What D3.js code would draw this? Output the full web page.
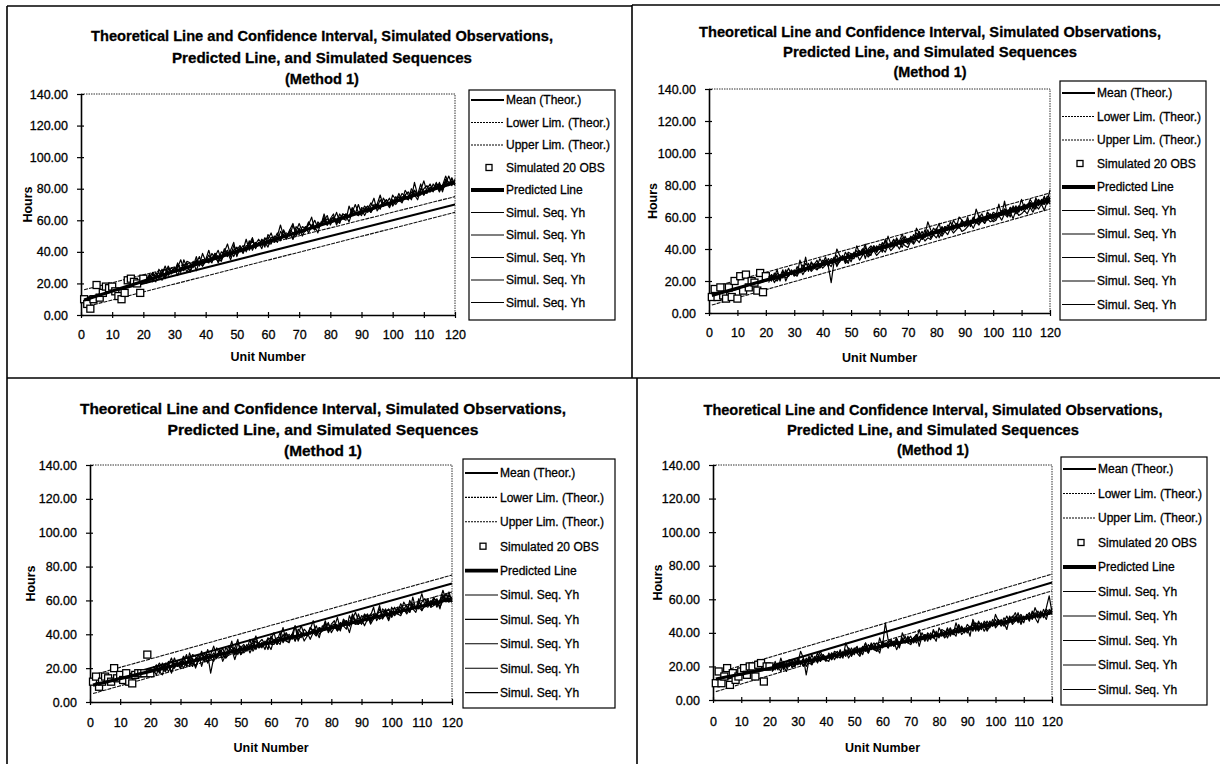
<!DOCTYPE html>
<html>
<head>
<meta charset="utf-8">
<script src="https://cdnjs.cloudflare.com/ajax/libs/d3/7.8.5/d3.min.js"></script>
<style>
body { margin: 0; background: #fff; }
svg { display: block; }
text { font-family: "Liberation Sans", Arial, sans-serif; fill: #000; }
.scan { stroke: #000; stroke-width: 0.3px; }
</style>
</head>
<body>
<div id="chart"></div>
<script>
// ---- data ----
var titleLines = [
    "Theoretical Line and Confidence Interval, Simulated Observations,",
    "Predicted Line, and Simulated Sequences",
    "(Method 1)"
];
var legendLabels = ["Mean (Theor.)", "Lower Lim. (Theor.)", "Upper Lim. (Theor.)", "Simulated 20 OBS",
    "Predicted Line", "Simul. Seq. Yh", "Simul. Seq. Yh", "Simul. Seq. Yh", "Simul. Seq. Yh", "Simul. Seq. Yh"];
var xTicks = [0, 10, 20, 30, 40, 50, 60, 70, 80, 90, 100, 110, 120];
var yTicks = [0, 20, 40, 60, 80, 100, 120, 140];

var obsUnits = [1, 2, 3, 4, 5, 6, 7, 8, 9, 10, 11, 12, 13, 14, 15, 16, 17, 18, 19, 20];
var seqUnits = d3.range(21, 121);

// theoretical line and limits (same in every panel), end points
var meanTheor = [[1, 10.5], [120, 70]];
var lowerTheor = [[1, 5], [120, 65]];
var upperTheor = [[1, 16], [120, 75]];

// simulated observations
var tlObs = [10, 7, 4, 10, 19, 11, 14, 18, 17, 18, 15, 12, 10, 14, 22, 23, 21, 20, 14, 23];
var trObs = [10, 15, 10, 16, 11, 9, 16, 10, 20, 9, 23, 14, 24, 16, 20, 19, 14, 25, 13, 23];
var blObs = [12, 15, 9, 12, 15, 14, 12, 20, 14, 16, 13, 17, 12, 11, 16, 17, 17, 17, 28, 17];
var brObs = [10, 17, 10, 14, 19, 9, 16, 12, 14, 17, 19, 15, 20, 20, 14, 21, 22, 11, 20, 20];

// predicted lines, end points
var tlPred = [[1, 9.5], [120, 84]];
var trPred = [[1, 11], [120, 71]];
var blPred = [[1, 10], [120, 61]];
var brPred = [[1, 12.5], [120, 52]];

// simulated sequences, units 21..120
var tlSeqs = [
    [23,21,26,24,24,29,23,29,28,27, 33,29,28,33,27,32,34,32,39,34, 33,36,39,33,37,40,45,38,41,38, 41,44,40,44,47,43,45,47,43,51, 48,47,50,57,50,48,54,52,51,55,
     50,54,59,56,54,59,57,64,57,60, 62,58,61,64,63,59,65,64,70,64, 67,69,65,68,70,76,69,71,68,73, 72,77,72,76,73,76,79,76,83,76, 79,78,83,80,83,78,86,84,82,86],
    [21,25,23,21,29,26,24,27,30,27, 30,35,29,30,28,33,33,37,31,34, 38,34,37,41,35,38,40,35,41,43, 40,41,48,41,44,46,44,48,46,43, 49,49,46,53,50,49,54,58,50,54,
     53,56,52,56,60,55,57,60,63,57, 61,59,64,61,60,69,64,64,64,67, 63,67,71,68,70,68,70,73,69,76, 73,73,71,76,78,74,84,76,78,76, 80,83,79,80,84,79,83,88,83,83],
    [24,23,22,27,23,26,31,26,27,30, 25,30,30,34,33,30,35,33,31,35, 41,34,38,36,34,39,41,37,44,40, 42,39,44,43,48,43,46,42,48,49, 46,48,52,47,51,52,50,57,52,51,
     56,55,54,57,56,52,59,59,61,58, 60,65,59,62,64,62,67,64,63,68, 67,65,69,74,66,69,71,73,70,73, 70,73,77,75,74,78,76,73,79,85, 78,80,78,83,82,80,84,83,87,82],
    [22,26,21,25,27,22,26,31,26,30, 29,27,35,30,30,34,28,34,35,34, 34,39,36,34,40,39,37,41,46,37, 43,41,41,47,41,45,48,45,45,48, 52,46,49,49,53,49,53,48,56,54,
     52,54,57,62,54,57,57,61,57,61, 64,57,62,61,64,62,68,65,63,65, 69,67,65,70,68,73,69,71,74,69, 72,75,72,79,76,73,79,76,76,80, 82,78,80,82,78,82,88,83,85,83],
    [20,24,27,24,24,27,29,25,28,28, 32,28,32,27,32,31,37,31,35,35, 35,33,39,37,36,42,38,41,37,41, 44,40,42,45,49,42,46,45,49,45, 45,50,49,48,54,50,53,48,53,58,
     53,53,58,56,54,58,57,62,57,60, 62,60,58,64,63,62,65,70,65,63, 67,69,66,68,70,67,74,71,71,70, 75,72,75,74,73,80,77,75,80,78, 77,81,80,84,79,82,85,82,85,84]
];
var trSeqs = [
    [23,21,23,27,20,26,24,28,24,27, 24,33,27,31,29,27,31,29,34,31, 33,29,33,32,40,36,34,33,38,37, 35,42,37,40,34,40,42,40,38,43, 42,41,48,43,46,42,45,49,45,43,
     48,46,48,51,46,49,57,52,49,52, 56,49,54,53,52,58,55,53,58,56, 54,58,56,65,60,59,56,63,61,59, 61,68,61,65,64,60,67,63,65,71, 65,68,69,65,72,68,69,73,68,72],
    [19,24,21,20,23,27,20,24,26,24, 23,27,26,35,26,31,30,27,29,31, 35,29,19,32,31,35,33,38,35,32, 37,36,36,38,43,36,38,42,38,41, 38,46,43,42,41,47,44,41,46,45,
     46,44,53,50,46,48,52,47,50,52, 47,51,54,52,53,55,53,60,58,54, 60,54,59,57,56,60,58,63,60,57, 58,62,61,70,61,66,65,62,64,66, 64,66,71,68,65,71,68,68,73,72],
    [22,20,25,21,24,22,27,23,26,24, 29,25,28,26,31,27,30,33,28,30, 30,34,31,35,29,33,36,32,37,34, 38,35,39,36,41,37,36,42,39,40, 44,40,43,41,46,42,45,43,48,44,
     45,49,46,50,47,52,48,51,49,53, 50,54,51,53,57,52,55,53,58,54, 57,55,59,56,61,57,60,58,62,59, 60,63,61,65,62,66,63,64,67,64, 67,65,69,66,70,67,71,68,72,69],
    [20,23,19,22,21,24,22,23,26,23, 25,28,24,27,29,26,28,27,31,28, 30,31,29,33,30,32,35,31,33,34, 34,37,33,36,38,35,37,39,36,38, 40,38,42,39,41,43,40,44,42,41,
     45,43,46,44,48,45,47,46,49,47, 50,48,51,49,53,50,52,54,51,52, 54,56,53,57,55,58,56,59,57,58, 59,61,58,62,60,63,59,64,61,62, 64,62,66,63,67,65,68,64,70,68],
    [22,24,21,25,23,22,26,24,27,25, 27,26,30,28,27,32,29,31,29,33, 32,30,34,33,36,32,35,34,31,37, 37,39,36,40,38,37,41,39,42,40, 42,45,41,44,42,46,43,47,44,46,
     47,46,50,48,51,47,50,49,53,51, 52,53,51,55,54,52,56,55,54,57, 58,56,60,57,59,62,58,61,59,63, 62,60,64,63,61,65,64,67,63,66, 68,66,69,67,71,70,68,72,70,77]
];
var blSeqs = [
    [21,19,18,23,18,22,26,21,22,24, 20,24,24,28,27,24,28,26,24,28, 33,27,30,28,26,30,33,28,35,31, 32,30,34,33,38,33,35,31,37,38, 35,36,41,35,38,40,37,45,39,38,
     43,41,40,43,42,38,45,44,46,43, 44,50,43,47,48,45,51,47,46,51, 50,48,51,56,48,51,52,55,51,54, 51,53,58,55,54,58,55,53,58,64, 57,59,56,61,60,58,62,60,65,59],
    [19,22,17,21,22,18,21,26,21,24, 24,21,29,24,24,28,21,27,28,17, 26,32,28,26,32,30,29,32,37,28, 33,32,31,37,31,35,37,34,34,37, 41,34,38,37,40,37,40,36,43,41,
     39,40,43,48,40,43,43,46,42,46, 48,42,46,46,48,45,52,48,46,48, 52,50,47,52,50,55,50,53,55,50, 53,55,53,59,56,53,58,56,55,59, 61,57,58,60,56,60,66,60,63,60],
    [17,20,23,20,19,23,24,20,23,22, 27,22,26,21,26,25,30,24,28,28, 27,26,31,29,28,33,30,32,28,32, 34,31,32,35,39,32,35,34,38,34, 34,38,38,36,41,38,40,36,40,45,
     40,39,44,42,40,44,43,47,42,45, 46,45,42,49,47,45,49,53,48,46, 50,52,48,50,52,49,55,53,52,51, 56,52,56,54,53,60,56,55,59,57, 56,60,58,62,57,60,63,59,63,61],
    [19,16,21,19,18,24,17,23,22,20, 27,22,21,26,20,25,26,24,31,26, 24,28,30,24,28,30,36,28,31,28, 30,34,29,33,36,32,33,35,31,39, 36,34,38,44,36,35,40,39,37,41,
     36,39,44,41,39,44,42,48,41,44, 45,42,44,48,46,41,48,46,52,46, 49,51,46,49,51,57,49,52,48,53, 52,56,52,55,52,55,57,55,61,54, 57,56,60,57,60,55,63,60,59,62],
    [17,20,18,16,23,21,18,21,24,20, 24,28,22,23,21,26,25,29,23,26, 29,26,28,32,26,28,31,25,31,33, 29,31,37,30,33,35,32,36,34,31, 37,36,34,40,36,36,40,45,36,40,
     39,41,37,41,45,40,42,44,47,41, 44,43,47,45,43,51,47,46,46,49, 45,49,52,49,51,49,50,54,49,56, 53,52,51,55,57,53,62,55,56,54, 58,61,56,57,61,56,60,64,60,59]
];
var brSeqs = [
    [17,23,19,22,19,22,24,19,23,22, 29,25,20,23,27,23,25,29,25,23, 28,25,29,28,27,25,34,30,27,30, 32,27,30,34,29,33,32,29,37,32, 46,36,34,35,30,34,36,34,36,38,
     34,36,42,36,39,38,36,42,38,38, 42,41,37,41,39,46,41,43,40,43, 42,47,41,46,45,41,44,47,44,51, 47,44,46,50,46,49,52,48,49,46, 51,49,49,55,51,49,54,50,52,54],
    [17,20,18,25,20,17,22,20,20,25, 23,21,22,25,21,24,28,23,26,24, 23,28,26,25,30,26,29,25,28,31, 28,26,30,34,28,32,30,31,28,35, 33,31,35,32,34,31,40,36,34,33,
     36,39,32,38,35,39,37,38,35,43, 40,37,39,42,40,38,44,39,41,43, 38,48,44,41,44,46,41,44,48,43, 45,47,46,42,49,45,47,52,45,49, 50,47,53,49,46,52,51,48,54,51],
    [20,18,22,19,23,20,21,24,20,23, 21,24,22,26,23,25,22,27,24,26, 25,28,24,27,29,26,30,27,31,28, 30,28,31,29,33,30,32,34,31,33, 34,31,35,32,36,33,37,34,38,35,
     37,34,38,36,39,35,40,37,41,38, 40,38,42,39,41,43,40,44,41,42, 44,41,45,42,46,43,47,44,46,45, 47,45,49,46,48,50,47,49,51,48, 50,48,52,49,53,50,51,54,52,53],
    [18,21,20,17,22,19,23,21,24,21, 23,20,25,22,21,26,23,25,27,24, 27,24,28,26,25,29,27,30,26,29, 28,31,27,32,29,34,30,29,33,31, 33,35,32,34,37,33,35,38,34,36,
     35,38,36,40,37,39,36,41,39,37, 41,39,43,38,42,40,45,41,43,40, 43,45,42,47,43,45,42,46,44,48, 45,48,44,47,49,46,50,47,46,50, 48,51,49,52,50,53,49,55,62,52],
    [21,19,20,22,18,22,20,23,21,24, 22,25,15,24,22,25,26,23,27,25, 26,24,27,29,26,28,26,31,29,27, 31,29,32,30,28,32,34,31,30,34, 32,34,36,33,35,32,36,35,37,34,
     37,39,35,38,36,40,38,37,40,39, 38,41,40,43,39,42,40,43,41,45, 43,42,46,44,42,47,45,43,46,44, 48,46,47,45,50,47,49,46,50,48, 50,52,48,51,49,52,50,53,51,55]
];

// ---- layout of the four panels ----
var panels = [
    { obs: tlObs, pred: tlPred, seqs: tlSeqs,
      plot: { x0: 81, x1: 455, top: 94, bottom: 315 },
      title: { cx: 322, ys: [36, 58, 79], lens: [462, 300, 74] },
      legend: { x: 469, y: 90, w: 146, h: 230, row0: 100, step: 22.5 },
      tickY: 334, xTitleY: 356, yTitleX: 27 },
    { obs: trObs, pred: trPred, seqs: trSeqs,
      plot: { x0: 709, x1: 1050, top: 89, bottom: 313 },
      title: { cx: 930, ys: [32, 52, 72], lens: [462, 294, 73] },
      legend: { x: 1060, y: 81, w: 146, h: 239, row0: 93, step: 23.5 },
      tickY: 332, xTitleY: 357, yTitleX: 652 },
    { obs: blObs, pred: blPred, seqs: blSeqs,
      plot: { x0: 90, x1: 452, top: 465, bottom: 702 },
      title: { cx: 323, ys: [409, 430, 451], lens: [486, 311, 78] },
      legend: { x: 463, y: 459, w: 152, h: 249, row0: 473, step: 24.4 },
      tickY: 722, xTitleY: 747, yTitleX: 30 },
    { obs: brObs, pred: brPred, seqs: brSeqs,
      plot: { x0: 713, x1: 1052, top: 465, bottom: 700 },
      title: { cx: 933, ys: [410, 430, 450], lens: [459, 292, 72] },
      legend: { x: 1061, y: 457, w: 146, h: 248, row0: 469, step: 24.5 },
      tickY: 721, xTitleY: 747, yTitleX: 657 }
];

var svg = d3.select("#chart").append("svg")
    .attr("width", 1220)
    .attr("height", 764);

// frames between the panels
var frames = [
    [7, 6, 632, 6], [7, 6, 7, 378], [632, 5, 1220, 5], [632, 5, 632, 378],
    [7, 378, 1220, 378], [7, 378, 7, 764], [637, 378, 637, 764]
];
svg.append("g").selectAll("line")
    .data(frames)
    .enter().append("line")
    .attr("x1", function(d) { return d[0]; })
    .attr("y1", function(d) { return d[1]; })
    .attr("x2", function(d) { return d[2]; })
    .attr("y2", function(d) { return d[3]; })
    .attr("stroke", "#000")
    .attr("stroke-width", 1.6);

function toPoints(xs, ys) {
    return xs.map(function(x, i) { return [x, ys[i]]; });
}

function drawPanel(p) {
    var g = svg.append("g");
    var x = d3.scaleLinear().domain([0, 120]).range([p.plot.x0, p.plot.x1]);
    var y = d3.scaleLinear().domain([0, 140]).range([p.plot.bottom, p.plot.top]);
    var line = d3.line()
        .x(function(d) { return x(d[0]); })
        .y(function(d) { return y(d[1]); });

    // title
    g.selectAll(".title")
        .data(titleLines)
        .enter().append("text")
        .attr("class", "scan")
        .attr("x", p.title.cx)
        .attr("y", function(d, i) { return p.title.ys[i]; })
        .attr("dy", "0.36em")
        .attr("text-anchor", "middle")
        .attr("font-size", 15)
        .attr("font-weight", "bold")
        .attr("textLength", function(d, i) { return p.title.lens[i]; })
        .attr("lengthAdjust", "spacingAndGlyphs")
        .text(function(d) { return d; });

    // dotted plot area border (top and right)
    g.append("path")
        .attr("d", "M" + p.plot.x0 + "," + p.plot.top + "H" + p.plot.x1 + "V" + p.plot.bottom)
        .attr("fill", "none")
        .attr("stroke", "#333")
        .attr("stroke-width", 1)
        .attr("stroke-dasharray", "1.5,1");

    // axes
    var xAxis = g.append("g")
        .attr("transform", "translate(0," + p.plot.bottom + ")")
        .call(d3.axisBottom(x).tickValues(xTicks).tickSizeOuter(0).tickPadding(10));
    var yAxis = g.append("g")
        .attr("transform", "translate(" + p.plot.x0 + ",0)")
        .call(d3.axisLeft(y).tickValues(yTicks).tickFormat(d3.format(".2f")).tickSizeOuter(0).tickPadding(7));
    [xAxis, yAxis].forEach(function(a) {
        a.select(".domain").attr("stroke", "#000").attr("stroke-width", 1.6);
        a.selectAll(".tick line").attr("stroke", "#000").attr("stroke-width", 1.2);
        a.selectAll(".tick text")
            .attr("class", "scan")
            .attr("font-family", "Liberation Sans, Arial, sans-serif")
            .attr("font-size", 12.5);
    });
    xAxis.selectAll(".tick line").attr("y1", -3).attr("y2", 3);
    yAxis.selectAll(".tick line").attr("x1", -4).attr("x2", 3);
    xAxis.selectAll(".tick text").attr("y", p.tickY - p.plot.bottom).attr("dy", "0.36em");

    g.append("text")
        .attr("x", (p.plot.x0 + p.plot.x1) / 2)
        .attr("y", p.xTitleY)
        .attr("dy", "0.36em")
        .attr("text-anchor", "middle")
        .attr("font-size", 12.5)
        .attr("font-weight", "bold")
        .text("Unit Number");
    g.append("text")
        .attr("transform", "translate(" + p.yTitleX + "," + (p.plot.top + p.plot.bottom) / 2 + ") rotate(-90)")
        .attr("dy", "0.36em")
        .attr("text-anchor", "middle")
        .attr("font-size", 12.5)
        .attr("font-weight", "bold")
        .text("Hours");

    // series, in Excel drawing order
    g.append("path").datum(meanTheor).attr("d", line)
        .attr("fill", "none").attr("stroke", "#000").attr("stroke-width", 2);
    [lowerTheor, upperTheor].forEach(function(lim) {
        g.append("path").datum(lim).attr("d", line)
            .attr("fill", "none").attr("stroke", "#111").attr("stroke-width", 1.1)
            .attr("stroke-dasharray", "4,1");
    });
    g.append("g").selectAll("rect")
        .data(toPoints(obsUnits, p.obs))
        .enter().append("rect")
        .attr("x", function(d) { return x(d[0]) - 3.5; })
        .attr("y", function(d) { return y(d[1]) - 3.5; })
        .attr("width", 7)
        .attr("height", 7)
        .attr("fill", "#fff")
        .attr("stroke", "#000")
        .attr("stroke-width", 1.3);
    g.append("path").datum(p.pred).attr("d", line)
        .attr("fill", "none").attr("stroke", "#000").attr("stroke-width", 3.2);
    g.append("g").selectAll("path")
        .data(p.seqs)
        .enter().append("path")
        .attr("d", function(s) { return line(toPoints(seqUnits, s)); })
        .attr("fill", "none")
        .attr("stroke", "#000")
        .attr("stroke-width", 1.2)
        .attr("stroke-linejoin", "round");

    // legend
    var L = p.legend;
    var lg = g.append("g");
    lg.append("rect")
        .attr("x", L.x).attr("y", L.y).attr("width", L.w).attr("height", L.h)
        .attr("fill", "#fff").attr("stroke", "#000").attr("stroke-width", 1.2);
    var rows = lg.selectAll(".row")
        .data(legendLabels)
        .enter().append("g")
        .attr("transform", function(d, i) { return "translate(" + L.x + "," + (L.row0 + i * L.step) + ")"; });
    rows.each(function(d, i) {
        var r = d3.select(this);
        if (i === 3) {
            r.append("rect").attr("x", 17).attr("y", -3).attr("width", 6).attr("height", 6)
                .attr("fill", "#fff").attr("stroke", "#000").attr("stroke-width", 1.3);
        } else {
            var w = i === 0 ? 2.2 : i === 4 ? 3.8 : 1.1;
            r.append("line").attr("x1", 2).attr("x2", 35).attr("y1", 0).attr("y2", 0)
                .attr("stroke", "#000").attr("stroke-width", w)
                .attr("stroke-dasharray", (i === 1 || i === 2) ? "2,1" : null);
        }
        r.append("text").attr("class", "scan").attr("x", 37).attr("dy", "0.36em")
            .attr("font-size", 12).text(d);
    });
}

panels.forEach(drawPanel);
</script>
</body>
</html>
